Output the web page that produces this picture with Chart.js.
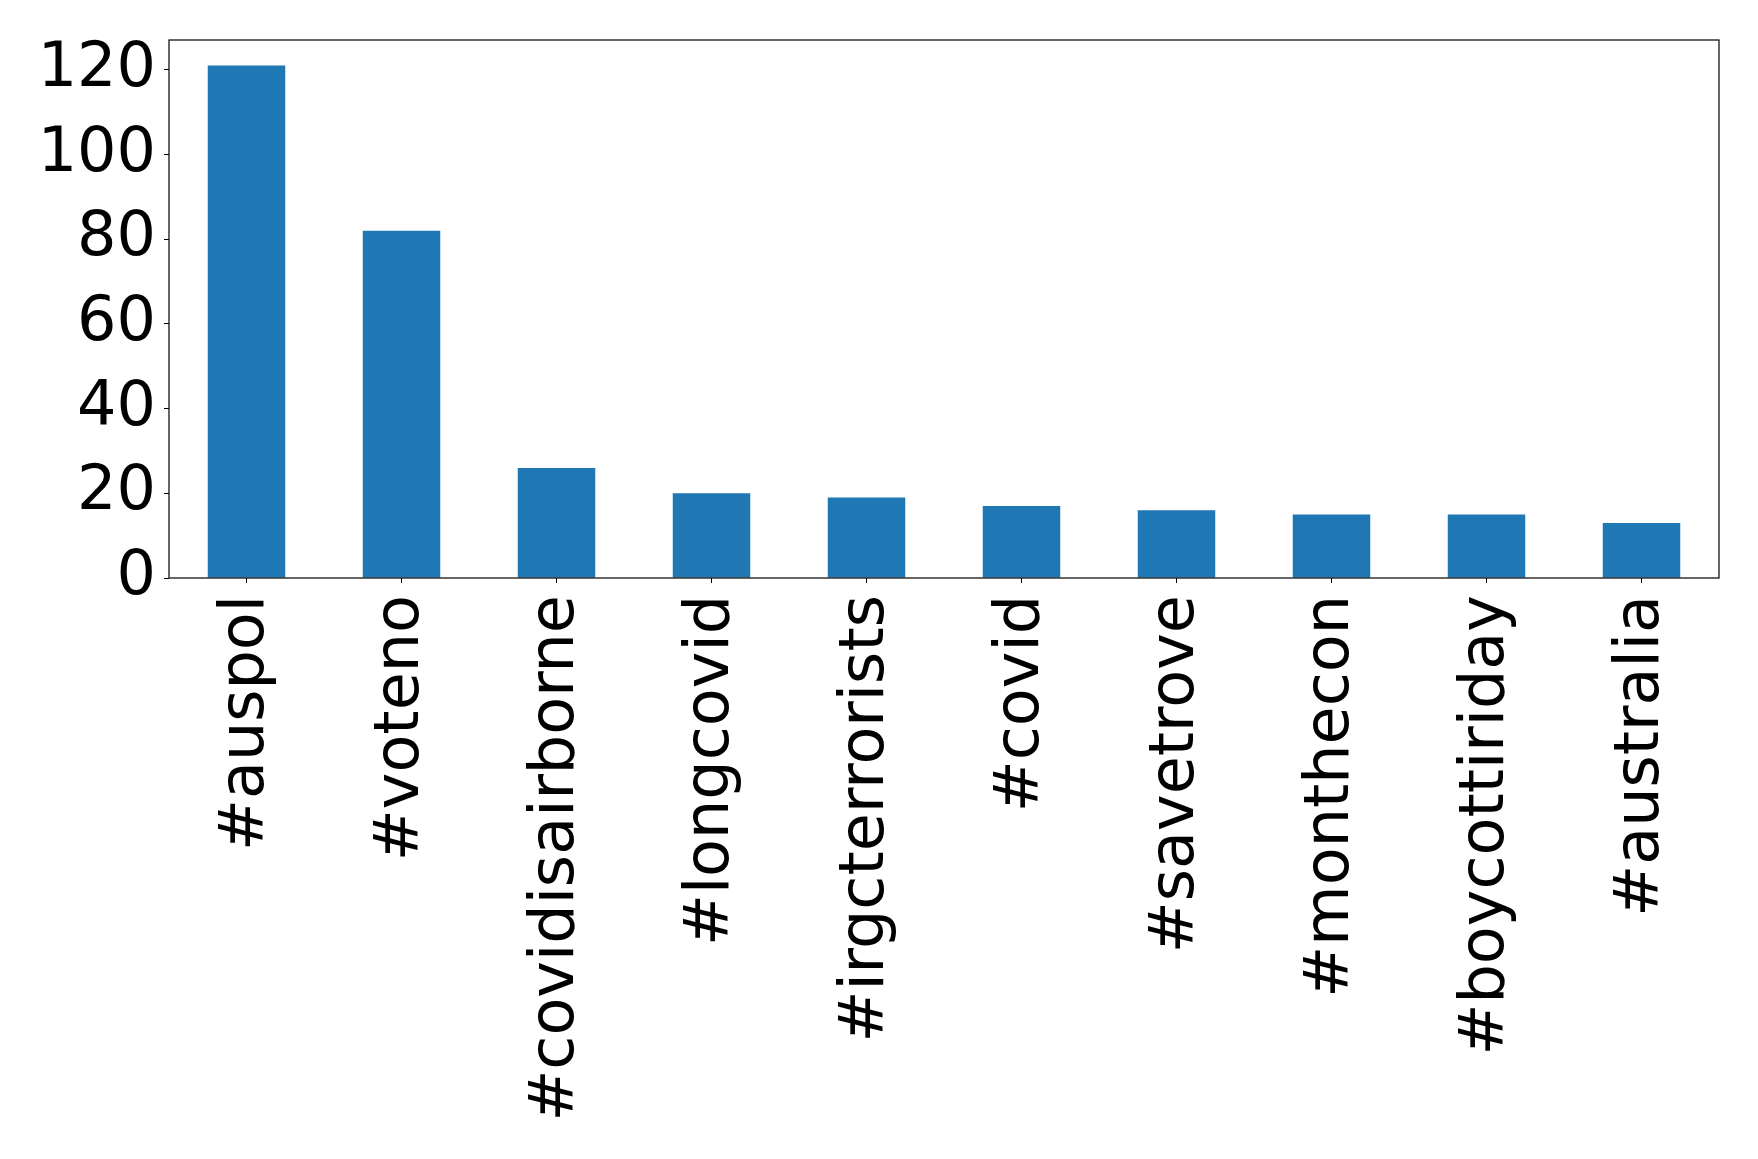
<!DOCTYPE html>
<html>
<head>
<meta charset="utf-8">
<script src="https://cdn.jsdelivr.net/npm/chart.js@4.4.6/dist/chart.umd.min.js"></script>
<style>
  html, body { margin: 0; padding: 0; background: #fff; }
  #wrap { width: 1758px; height: 1159px; }
</style>
</head>
<body>
<div id="wrap"><canvas id="grafica" width="1758" height="1159"></canvas></div>
<script>
const hashtags = ["#auspol", "#voteno", "#covidisairborne", "#longcovid", "#irgcterrorists",
                  "#covid", "#savetrove", "#monthecon", "#boycottiriday", "#australia"];
const conteos = [121, 82, 26, 20, 19, 17, 16, 15, 15, 13];
const ticksY = [0, 20, 40, 60, 80, 100, 120];

// marco negro alrededor del area de la grafica
const marco = {
    id: 'marco',
    afterDraw(chart) {
        const { ctx, chartArea } = chart;
        ctx.save();
        ctx.strokeStyle = '#000';
        ctx.lineWidth = 1.2;
        ctx.strokeRect(chartArea.left, chartArea.top, chartArea.right - chartArea.left, chartArea.bottom - chartArea.top);
        ctx.restore();
    }
};

const ctx = document.getElementById('grafica').getContext('2d');
new Chart(ctx, {
    type: 'bar',
    data: {
        labels: hashtags,
        datasets: [{
            data: conteos,
            backgroundColor: '#1f77b4',
            borderWidth: 0,
            categoryPercentage: 1.0,
            barPercentage: 0.5
        }]
    },
    options: {
        responsive: false,
        animation: false,
        layout: { padding: { top: 40, right: 39, left: 0, bottom: 0 } },
        plugins: { legend: { display: false }, tooltip: { enabled: false } },
        scales: {
            x: {
                offset: true,
                grid: { display: true, offset: false, drawOnChartArea: false, drawTicks: true, tickLength: 5, color: '#000' },
                border: { display: false },
                ticks: {
                    color: '#000',
                    font: { family: 'DejaVu Sans', size: 62 },
                    minRotation: 90,
                    maxRotation: 90,
                    padding: 12,
                    autoSkip: false
                },
                afterFit(scale) {
                    scale.height = 581;
                    scale.paddingLeft = 0;
                    scale.paddingRight = 0;
                }
            },
            y: {
                min: 0,
                max: 127.05,
                grid: { display: true, drawOnChartArea: false, drawTicks: true, tickLength: 5, color: '#000' },
                border: { display: false },
                ticks: {
                    color: '#000',
                    font: { family: 'DejaVu Sans', size: 62 },
                    stepSize: 20,
                    padding: 8
                },
                afterBuildTicks(scale) {
                    scale.ticks = ticksY.map(v => ({ value: v }));
                },
                afterFit(scale) {
                    scale.width = 169;
                    scale.paddingTop = 0;
                    scale.paddingBottom = 0;
                }
            }
        }
    },
    plugins: [marco]
});
</script>
</body>
</html>
